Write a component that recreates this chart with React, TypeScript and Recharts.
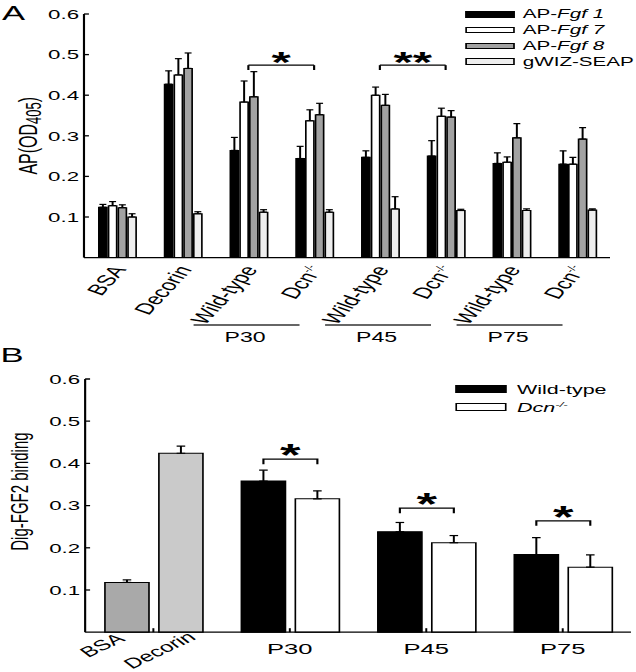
import React from 'react';
import { BarChart, Bar, XAxis, YAxis, ErrorBar, ReferenceLine, Legend, LabelList, Cell } from 'recharts';

const FONT = '"Liberation Sans", Arial, Helvetica, sans-serif';
// the published figure is stretched sideways, so everything is laid out narrow and scaled back
const SX = 1.65;
const W = 636 / SX;

// ---- panel A ----
const catsA = ['bsa', 'decorin', 'wt30', 'ko30', 'wt45', 'ko45', 'wt75', 'ko75'];
const labelsA = ['BSA', 'Decorin', 'Wild-type', 'Dcn', 'Wild-type', 'Dcn', 'Wild-type', 'Dcn'];
const supA = ['', '', '', '-/-', '', '-/-', '', '-/-'];
const ageStartA = ['wt30', 'wt45', 'wt75'];
const ageLabels = ['P30', 'P45', 'P75'];

const seriesA = ['AP-Fgf 1', 'AP-Fgf 7', 'AP-Fgf 8', 'gWIZ-SEAP'];
const keysA = ['fgf1', 'fgf7', 'fgf8', 'seap'];
const fillsA = ['#000000', '#ffffff', '#a2a2a2', '#eeeeee'];

const fgf1 = [0.124, 0.427, 0.264, 0.244, 0.247, 0.25, 0.232, 0.23];
const fgf1Err = [0.007, 0.033, 0.032, 0.03, 0.016, 0.038, 0.026, 0.033];
const fgf7 = [0.128, 0.45, 0.383, 0.337, 0.4, 0.348, 0.235, 0.23];
const fgf7Err = [0.01, 0.04, 0.052, 0.027, 0.02, 0.02, 0.013, 0.017];
const fgf8 = [0.123, 0.466, 0.396, 0.352, 0.375, 0.346, 0.295, 0.292];
const fgf8Err = [0.007, 0.038, 0.062, 0.028, 0.027, 0.016, 0.035, 0.028];
const seap = [0.1, 0.108, 0.112, 0.112, 0.12, 0.116, 0.116, 0.117];
const seapErr = [0.008, 0.005, 0.006, 0.006, 0.03, 0.003, 0.004, 0.003];

const sigFromA = ['wt30', 'wt45'];
const sigToA = ['ko30', 'ko45'];
const sigLevelA = [0.474, 0.474];
const sigMarkA = ['*', '**'];

const yTicks = [0.1, 0.2, 0.3, 0.4, 0.5, 0.6];

// ---- panel B ----
const catsB = ['control', 'P30', 'P45', 'P75'];
const controlLabels = ['BSA', 'Decorin'];
const seriesB = ['Wild-type', 'Dcn-/-'];
const fillsB = ['#000000', '#ffffff'];
const controlFills = ['#a9a9a9', '#cacaca'];
// left bar: BSA, then wild-type; right bar: Decorin, then Dcn-/-
const leftB = [0.118, 0.358, 0.238, 0.184];
const leftErrB = [0.006, 0.026, 0.022, 0.04];
const rightB = [0.424, 0.316, 0.212, 0.154];
const rightErrB = [0.017, 0.019, 0.017, 0.029];
const bracketB = [null, 0.41, 0.294, 0.264];

const errs = [fgf1Err, fgf7Err, fgf8Err, seapErr];
const dataA = catsA.map((c, i) => ({
  cat: c,
  fgf1: fgf1[i],
  fgf7: fgf7[i],
  fgf8: fgf8[i],
  seap: seap[i],
  fgf1Err: [0, errs[0][i]],
  fgf7Err: [0, errs[1][i]],
  fgf8Err: [0, errs[2][i]],
  seapErr: [0, errs[3][i]],
}));

const dataB = catsB.map((c, i) => ({
  cat: c,
  left: leftB[i],
  right: rightB[i],
  leftErr: [0, leftErrB[i]],
  rightErr: [0, rightErrB[i]],
  bracket: bracketB[i],
}));

const BAR_GAP_B = 6;

const renderName = (n: string) => {
  if (n.startsWith('AP-')) return <>AP-<i>{n.slice(3)}</i></>;
  if (n.startsWith('Dcn')) return <i>Dcn<sup style={{ fontSize: 8 }}>{n.slice(3)}</sup></i>;
  return n;
};

const YTick = (props: any) => {
  const { x, y, payload } = props;
  return (
    <g>
      <line x1={x} x2={x + 3} y1={y} y2={y} stroke="#000" strokeWidth={1.3} />
      <text x={x - 3} y={y} dy="0.36em" textAnchor="end" fontSize={13.5} fontFamily={FONT} fill="#000">
        {Number(payload.value).toFixed(1)}
      </text>
    </g>
  );
};

const TickA = (props: any) => {
  const { x, y, payload } = props;
  const i = props.index ?? catsA.indexOf(payload.value);
  const ax = x + 6;
  const ay = y + 12;
  const k = ageStartA.indexOf(catsA[i]);
  return (
    <g>
      <text x={ax} y={ay} transform={`rotate(-60 ${ax} ${ay})`} textAnchor="end" fontSize={15.5} fontFamily={FONT} fill="#000">
        {labelsA[i]}
        {supA[i] && <tspan dy={-6} fontSize={8}>{supA[i]}</tspan>}
      </text>
      {k >= 0 && (
        <g>
          <line x1={x - 33.2} x2={x + 31} y1={y + 67.4} y2={y + 67.4} stroke="#333" strokeWidth={1.4} />
          <text x={x - 2} y={y + 84.4} textAnchor="middle" fontSize={14} fontFamily={FONT} fill="#000">
            {ageLabels[k]}
          </text>
        </g>
      )}
    </g>
  );
};

const TickB = (props: any) => {
  const { x, y, payload } = props;
  const i = props.index ?? catsB.indexOf(payload.value);
  return (
    <g>
      <line x1={x} x2={x} y1={y} y2={y - 4} stroke="#000" strokeWidth={1.2} />
      {i === 0 ? (
        <g>
          <text x={x - 16.6} y={y + 8} transform={`rotate(-38 ${x - 16.6} ${y + 8})`} textAnchor="end" fontSize={14.5} fontFamily={FONT} fill="#000">
            {controlLabels[0]}
          </text>
          <text x={x + 26.4} y={y + 6.5} transform={`rotate(-38 ${x + 26.4} ${y + 6.5})`} textAnchor="end" fontSize={14.5} fontFamily={FONT} fill="#000">
            {controlLabels[1]}
          </text>
        </g>
      ) : (
        <text x={x} y={y + 22} textAnchor="middle" fontSize={15.5} fontFamily={FONT} fill="#000">
          {payload.value}
        </text>
      )}
    </g>
  );
};

const starLabel = (mark: string) => (props: any) => {
  const vb = props.viewBox || {};
  const cx = vb.x + (vb.width || 0) / 2;
  return (
    <text x={cx} y={vb.y + 7.3} textAnchor="middle" fontSize={30} fontWeight="bold" fontFamily={FONT} fill="#000">
      {mark}
    </text>
  );
};

const BracketB = (props: any) => {
  const vb = props.viewBox && props.viewBox.width != null ? props.viewBox : props;
  let i = props.index;
  if (i == null) i = bracketB.indexOf(props.value);
  const top = bracketB[i];
  if (top == null || !vb) return null;
  const x = Number(vb.x), y = Number(vb.y), w = Number(vb.width), h = Number(vb.height);
  const k = h / leftB[i];
  const base = y + h;
  const by = base - top * k;
  const drop = 0.012 * k;
  const x1 = x + w / 2;
  const x2 = x1 + w + BAR_GAP_B;
  return (
    <g>
      <path d={`M${x1},${by + drop}V${by}H${x2}V${by + drop}`} fill="none" stroke="#000" strokeWidth={1.3} />
      <text x={(x1 + x2) / 2} y={by + 7} textAnchor="middle" fontSize={32} fontWeight="bold" fontFamily={FONT} fill="#000">
        *
      </text>
    </g>
  );
};

// legend items keep the order of the series, not alphabetical
const ordered = (payload: any[], names: string[]) =>
  [...(payload || [])].sort((a, b) => names.indexOf(String(a.value)) - names.indexOf(String(b.value)));

const LegendA = (props: any) => (
  <div style={{ fontFamily: FONT, fontSize: 12.5, color: '#000' }}>
    {ordered(props.payload, seriesA).map((p: any) => {
      const i = seriesA.indexOf(String(p.value));
      return (
        <div key={p.value} style={{ display: 'flex', alignItems: 'center', height: 15.8, whiteSpace: 'nowrap' }}>
          <span style={{ display: 'inline-block', width: 30, height: 6.5, boxSizing: 'border-box', border: '1px solid #000', background: fillsA[i], marginRight: 5 }} />
          <span>{renderName(String(p.value))}</span>
        </div>
      );
    })}
  </div>
);

const LegendB = (props: any) => (
  <div style={{ fontFamily: FONT, fontSize: 13, color: '#000' }}>
    {ordered(props.payload, seriesB).map((p: any) => {
      const i = seriesB.indexOf(String(p.value));
      return (
        <div key={p.value} style={{ display: 'flex', alignItems: 'center', height: 18, whiteSpace: 'nowrap' }}>
          <span style={{ display: 'inline-block', width: 31, height: 8, boxSizing: 'border-box', border: '1px solid #000', background: fillsB[i], marginRight: 6.6 }} />
          <span>{renderName(String(p.value))}</span>
        </div>
      );
    })}
  </div>
);

const yLabelA = (props: any) => {
  const vb = props.viewBox || {};
  const cx = 16.7;
  const cy = vb.y + vb.height / 2;
  return (
    <text x={cx} y={cy} transform={`rotate(-90 ${cx} ${cy})`} textAnchor="middle" dominantBaseline="central" fontSize={16} fontFamily={FONT} fill="#000">
      AP(OD<tspan dy={4} fontSize={13}>405</tspan><tspan dy={-4}>)</tspan>
    </text>
  );
};

const yLabelB = (props: any) => {
  const vb = props.viewBox || {};
  const cx = 11.6;
  const cy = vb.y + vb.height / 2 - 14;
  return (
    <text x={cx} y={cy} transform={`rotate(-90 ${cx} ${cy})`} textAnchor="middle" dominantBaseline="central" fontSize={15} fontFamily={FONT} fill="#000">
      Dig-FGF2 binding
    </text>
  );
};

export default function App() {
  return (
    <div style={{ position: 'absolute', left: 0, top: 0, width: 636, height: 672, background: '#fff', overflow: 'hidden' }}>
      <div style={{ width: W, height: 672, transform: `scaleX(${SX})`, transformOrigin: '0 0', position: 'relative' }}>
        <svg width={W} height={672} style={{ position: 'absolute', left: 0, top: 0, pointerEvents: 'none' }}>
          <text x={1.2} y={20} fontSize={21} fontFamily={FONT} fill="#000">A</text>
          <text x={0.3} y={362} fontSize={21} fontFamily={FONT} fill="#000">B</text>
        </svg>

        <div style={{ position: 'absolute', left: 0, top: 0 }}>
          <BarChart width={W} height={345} data={dataA} margin={{ top: 14, right: W - 369.7, left: 0, bottom: 0 }} barSize={4.9} barGap={1}>
            <XAxis dataKey="cat" interval={0} height={87.4} tick={<TickA />} tickLine={false} tickSize={0} tickMargin={0} axisLine={{ stroke: '#000', strokeWidth: 1.3 }} />
            <YAxis width={50.9} domain={[0, 0.6]} ticks={yTicks} tick={<YTick />} tickLine={false} tickSize={0} tickMargin={0} axisLine={{ stroke: '#000', strokeWidth: 1.3 }} label={yLabelA} />
            <Legend layout="vertical" align="center" verticalAlign="middle" content={<LegendA />} wrapperStyle={{ top: 6.4, left: 281.8, width: 110 }} />
            {keysA.map((k, i) => (
              <Bar key={k} dataKey={k} name={seriesA[i]} fill={fillsA[i]} stroke="#000" strokeWidth={1} isAnimationActive={false}>
                <ErrorBar dataKey={`${k}Err`} direction="y" width={2.1} stroke="#000" strokeWidth={1.2} isAnimationActive={false} />
              </Bar>
            ))}
            {sigFromA.map((f, i) => (
              <React.Fragment key={f}>
                <ReferenceLine segment={[{ x: f, y: sigLevelA[i] }, { x: sigToA[i], y: sigLevelA[i] }]} stroke="#000" strokeWidth={1.3} label={starLabel(sigMarkA[i])} />
                <ReferenceLine segment={[{ x: f, y: sigLevelA[i] }, { x: f, y: sigLevelA[i] - 0.012 }]} stroke="#000" strokeWidth={1.3} />
                <ReferenceLine segment={[{ x: sigToA[i], y: sigLevelA[i] }, { x: sigToA[i], y: sigLevelA[i] - 0.012 }]} stroke="#000" strokeWidth={1.3} />
              </React.Fragment>
            ))}
          </BarChart>
        </div>

        <div style={{ position: 'absolute', left: 0, top: 345 }}>
          <BarChart width={W} height={327} data={dataB} margin={{ top: 34, right: W - 382.4, left: 0, bottom: 0 }} barSize={26.7} barGap={BAR_GAP_B}>
            <XAxis dataKey="cat" interval={0} height={39.8} tick={<TickB />} tickLine={false} tickSize={0} tickMargin={0} axisLine={{ stroke: '#000', strokeWidth: 1.3 }} />
            <YAxis width={51.6} domain={[0, 0.6]} ticks={yTicks} tick={<YTick />} tickLine={false} tickSize={0} tickMargin={0} axisLine={{ stroke: '#000', strokeWidth: 1.3 }} label={yLabelB} />
            <Legend layout="vertical" align="center" verticalAlign="middle" content={<LegendB />} wrapperStyle={{ top: 35, left: 275.8, width: 110 }} />
            <Bar dataKey="left" name={seriesB[0]} fill={fillsB[0]} stroke="#000" strokeWidth={1} isAnimationActive={false}>
              {dataB.map((d, i) => (
                <Cell key={d.cat} fill={i === 0 ? controlFills[0] : fillsB[0]} />
              ))}
              <ErrorBar dataKey="leftErr" direction="y" width={2.6} stroke="#000" strokeWidth={1.2} isAnimationActive={false} />
              <LabelList dataKey="bracket" content={BracketB} />
            </Bar>
            <Bar dataKey="right" name={seriesB[1]} fill={fillsB[1]} stroke="#000" strokeWidth={1} isAnimationActive={false}>
              {dataB.map((d, i) => (
                <Cell key={d.cat} fill={i === 0 ? controlFills[1] : fillsB[1]} />
              ))}
              <ErrorBar dataKey="rightErr" direction="y" width={2.6} stroke="#000" strokeWidth={1.2} isAnimationActive={false} />
            </Bar>
          </BarChart>
        </div>
      </div>
    </div>
  );
}
